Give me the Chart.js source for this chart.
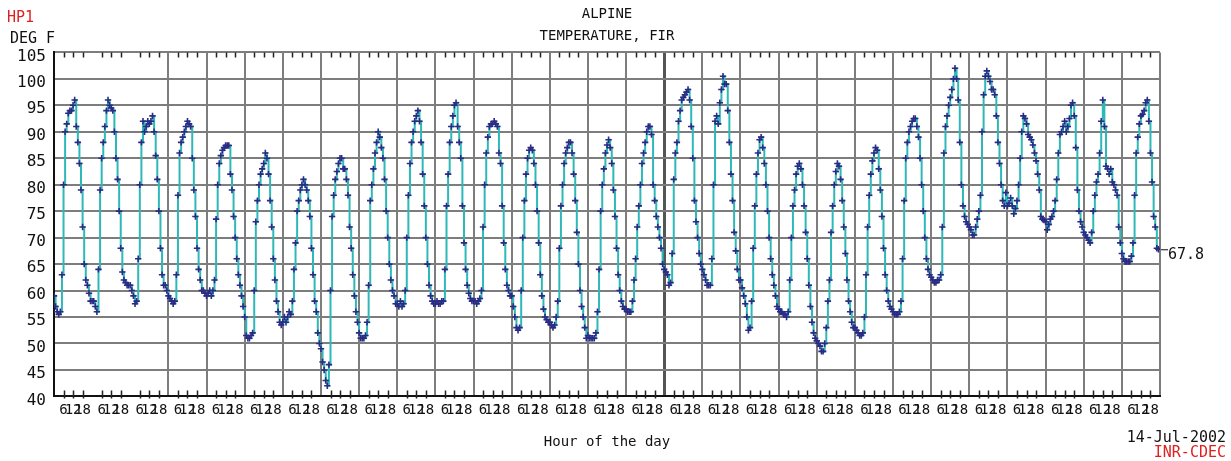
<!DOCTYPE html>
<html>
<head>
<meta charset="utf-8">
<script src="https://cdn.jsdelivr.net/npm/chart.js@4.4.0/dist/chart.umd.min.js"></script>
<style>
html, body { margin: 0; padding: 0; background: #fff; }
</style>
</head>
<body>
<canvas id="myChart" width="1231" height="461"></canvas>
<script>
'use strict'

// hourly temperature, deg F, one line per day (24 values)
var week1 = [
  59,57,56,55.5,56,63,80,90,91.5,93.5,94,94,95,96,91,88,84,79,72,65,62,61,59.5,58,
  58,58,57,56,64,79,85,88,91,94,96,95,94.5,94,90,85,81,75,68,63.5,62,61.5,61,61,
  61,60,59,57.5,58,66,80,88,92,90,91,92,91.5,92,93,90,85.5,81,75,68,63,61,61,60,
  59,58.5,58,57.5,58,63,78,86,88,89,90,91,92,91.5,91,85,79,74,68,64,62,60,60,59.5,
  59,59.5,60,59,60,62,73.5,80,84,85.5,86.5,87,87.4,87.4,87.4,82,79,74,70,66,63,61,59,57,
  55,51.5,51,51,51.5,52,60,73,77,80,82,83,84,86,85,82,77,72,66,62,58,56,54,53.5,
  54,55,54,55,56,55.5,58,64,69,75,77,79,80,81,80,79,77,74,68,63,58,56,52,50
]
var week2 = [
  49,46.5,45,43,42,46,60,74,78,81,82.5,84,85,85,83,83,81,78,72,68,63,59,56,54,
  52,51,51,51,51.5,54,61,77,80,83,86,88,90,89,87,85,81,75,70,65,62,60,59,57.5,
  57.5,57,58,57,57.5,60,70,78,84,88,90,92,93,94,92,88,82,76,70,65,61,59,58,57.5,
  57.5,58,57.5,57.5,58,58,64,76,82,88,91,93,95,95.5,91,88,85,76,69,64,61,59.5,58.5,58,
  58,58,57.5,58,58.5,60,72,80,86,89,91,91.5,91.5,92,91.5,91,86,84,76,69,64,61,60,59,
  59,57,55,53,52.5,53,60,70,77,82,85,86.5,87,86.5,84,80,75,69,63,59,56.5,55,54.5,54,
  54,53.5,53,53.5,55,58,68,76,80,84,86,87,88,88,86,82,77,71,65,60,57,55,53,51
]
var week3 = [
  51.5,51,51,51,51,52,56,64,75,80,83,86,87.5,88.5,87,84,79,74,68,63,60,58,57,56.5,
  56.5,56,56,56,58,62,66,72,76,80,84,86,88,90,91,91,89.5,80,77,74,72,70,68,65,
  64,63.5,63,61,61.5,67,81,86,88,92,94,96,96.5,97,97.5,98,96,91,85,77,73,70,67,65,
  64,63,62,61,61,61,66,80,92,93,91.5,95.5,98,100.5,99,99,94,88,82,77,71,67.5,64,62,
  62,60.5,59,57.5,55,52.5,53,58,68,76,82,86,88.5,89,87,84,80,75,70,66,63,61,59,57,
  56.5,56,56,55.5,55.5,55,56,62,70,76,79,82,83.5,84,83,80,76,71,66,61,57,54,52,51,
  50.5,50,49.5,48.5,48.5,50,53,58,62,71,76,80,82.5,84,83.5,81,77,72,67,62,58,56,54,53
]
var week4 = [
  53,52.5,52,51.5,51.5,52,55,63,72,78,82,84.5,86,87,86.5,83,79,74,68,63,60,58,57,56.5,
  56,55.5,55.5,55.5,56,58,66,77,85,88,90,91,92,92.5,92.5,91,89,85,80,75,70,66,64,63,
  62.5,62,61.5,61.5,62,62,63,72,86,91,93,95,96.5,98,100,102,100,96,88,80,76,74,73,72.5,
  72,71.5,70.5,70.5,72,73.5,75,78,90,97,100.5,101.5,100.5,99.5,98,98,97,93,88,84,80,77,76,78.5,
  76,76.5,77.5,76,74.5,75.5,77,80,85,90,93,92.5,91.5,89.5,89,88.5,87.5,86,84.5,82,79,74,73.5,73.3,
  73,71.5,72.5,73.5,74,75,77,81,86,89.5,90,91,92,90,91,92.5,95,95.5,93,87,79,75,73,72,
  71,70.5,70,69.5,69,71,75,78,80.5,82,86,92,96,91,83.5,83,82,83,80.5,80,79,78,72,69
]
var week5 = [
  67,66,65.5,65.5,65.5,65.5,66.5,69,78,86,89,91.5,93,93.3,94,95.5,96,92,86,80.5,74,72,68,67.8
]

var hourLabels = ['', '6', '12', '18']   // label for hour 0, 6, 12, 18 of each day
var yMin = 40
var yMax = 105
var yStep = 5
var noGridHours = [24, 48]   // midnights drawn without a grid line
var monthLine = 384          // heavier line

var temps = week1.concat(week2, week3, week4, week5)
var maxHour = 696
var points = temps.map(function(t, i){ return {x: i, y: t} })

var gridGray = '#7d7d7d'
var monoFont = "'DejaVu Sans Mono', monospace"

var extras = {
  id: 'extras',
  afterDraw: function(chart){
    var ctx = chart.ctx
    var area = chart.chartArea
    var xs = chart.scales.x
    var ys = chart.scales.y
    ctx.save()
    // small inside tick marks at 6, 12, 18 h
    ctx.strokeStyle = '#222'
    ctx.lineWidth = 1.5
    for (let h = 6; h < maxHour; h += 6){
      if (h % 24 === 0) continue
      var px = Math.round(xs.getPixelForValue(h)) + 0.5
      ctx.beginPath()
      ctx.moveTo(px, area.top)
      ctx.lineTo(px, area.top + 5)
      ctx.moveTo(px, area.bottom - 6)
      ctx.lineTo(px, area.bottom + 2)
      ctx.stroke()
    }
    // last value marker
    var last = temps[temps.length - 1]
    var ly = ys.getPixelForValue(last)
    ctx.strokeStyle = '#111'
    ctx.lineWidth = 1
    ctx.beginPath()
    ctx.moveTo(area.right + 1, ly + 0.5)
    ctx.lineTo(area.right + 8, ly + 0.5)
    ctx.stroke()
    ctx.font = '15px ' + monoFont
    ctx.fillStyle = '#111'
    ctx.textBaseline = 'middle'
    ctx.textAlign = 'left'
    ctx.fillText(last.toFixed(1), area.right + 8, ly + 6)
    // corner texts
    ctx.fillStyle = '#e02020'
    ctx.fillText('HP1', 7, 18)
    ctx.fillStyle = '#111'
    ctx.fillText('DEG F', 10, 39)
    ctx.textAlign = 'right'
    ctx.fillText('14-Jul-2002', 1226, 438)
    ctx.fillStyle = '#e02020'
    ctx.fillText('INR-CDEC', 1226, 453)
    ctx.restore()
  }
}

var ctx = document.getElementById('myChart').getContext('2d')
new Chart(ctx, {
  type: 'line',
  data: {
    datasets: [{
      label: 'Temperature',
      data: points,
      borderColor: '#2fb8b8',
      borderWidth: 2,
      stepped: true,
      pointStyle: 'cross',
      pointRadius: 3.2,
      pointBorderWidth: 1.6,
      pointBorderColor: '#2b2b85',
      pointBackgroundColor: '#2b2b85'
    }]
  },
  options: {
    responsive: false,
    animation: false,
    devicePixelRatio: 1,
    layout: { padding: { left: 0, right: 71, top: 0, bottom: 6 } },
    plugins: {
      legend: { display: false },
      tooltip: { enabled: false },
      title: {
        display: true,
        fullSize: false,
        text: ['ALPINE', 'TEMPERATURE, FIR'],
        color: '#111',
        font: { family: monoFont, size: 14, weight: 'normal', lineHeight: 1.55 },
        padding: { top: 4, bottom: 5 }
      }
    },
    scales: {
      x: {
        type: 'linear',
        min: 0,
        max: maxHour,
        border: { display: true, color: '#111', width: 2 },
        grid: {
          drawTicks: false,
          color: function(c){
            var v = c.tick.value
            if (v % 24 !== 0 || noGridHours.indexOf(v) !== -1) return 'transparent'
            return v === monthLine ? '#555' : gridGray
          },
          lineWidth: function(c){ return c.tick.value === monthLine ? 3 : 2 }
        },
        ticks: {
          stepSize: 6,
          autoSkip: false,
          maxRotation: 0,
          padding: 6,
          color: '#111',
          font: { family: monoFont, size: 14 },
          callback: function(v){ return hourLabels[(v % 24) / 6] }
        },
        title: {
          display: true,
          text: 'Hour of the day',
          color: '#111',
          font: { family: monoFont, size: 14 },
          padding: { top: 9, bottom: 4 }
        }
      },
      y: {
        min: yMin,
        max: yMax,
        afterFit: function(scale){ scale.width = 54 },
        border: { display: true, color: '#111', width: 2 },
        grid: { drawTicks: false, color: gridGray, lineWidth: 2 },
        ticks: {
          stepSize: yStep,
          padding: 8,
          labelOffset: 4,
          color: '#111',
          font: { family: monoFont, size: 16 }
        }
      }
    }
  },
  plugins: [extras]
})
</script>
</body>
</html>
